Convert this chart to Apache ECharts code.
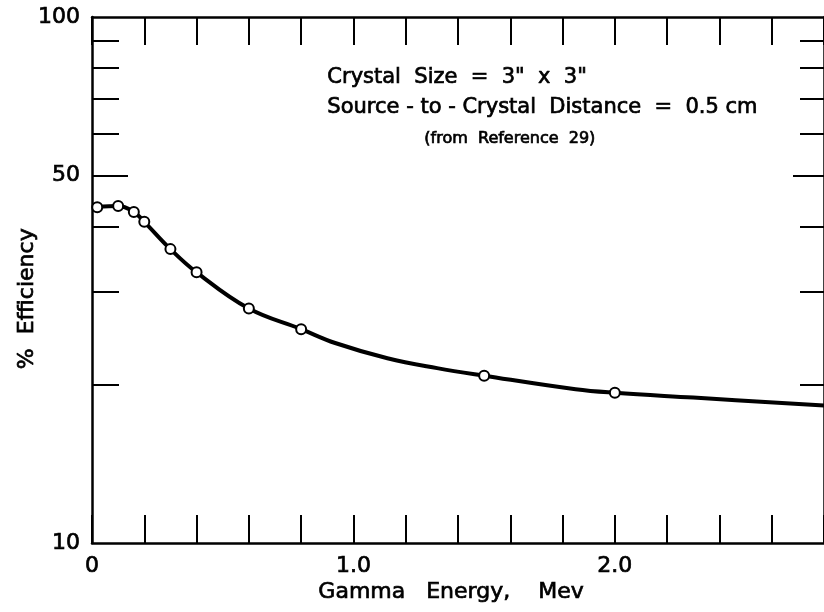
<!DOCTYPE html>
<html>
<head>
<meta charset="utf-8">
<script src="https://cdn.jsdelivr.net/npm/echarts@6/dist/echarts.min.js"></script>
<style>
  html, body { margin: 0; padding: 0; background: #fff; }
  #chart { width: 824px; height: 612px; }
</style>
</head>
<body>
<div id="chart"></div>
<script>
// Measured detector efficiency (circles) and the fitted curve through them
const markerEnergy = [0.02, 0.1, 0.16, 0.2, 0.3, 0.4, 0.6, 0.8, 1.5, 2.0];
const markerEfficiency = [43.5, 43.7, 42.6, 40.8, 36.2, 32.7, 27.9, 25.5, 20.8, 19.3];

const curveEnergy = [0.02, 0.1, 0.16, 0.2, 0.3, 0.4, 0.6, 0.8, 0.93, 1.13, 1.32, 1.5, 1.85, 2.0, 2.3, 2.8];
const curveEfficiency = [43.5, 43.7, 42.6, 40.8, 36.2, 32.7, 27.9, 25.5, 24.0, 22.45, 21.5, 20.8, 19.6, 19.3, 18.9, 18.25];

// Axis ticks and labels
const yTickValues = [20, 30, 40, 60, 70, 80, 90];
const yLongTickValues = [50];
const yLabelValues = [10, 50, 100];
const xLabelValues = [0, 1, 2];

const ink = '#000';
const fontFamily = '"DejaVu Sans", "Liberation Sans", sans-serif';
const inkStroke = 0.7;

const chart = echarts.init(document.getElementById('chart'), null, { renderer: 'canvas' });

const tickLabelStyle = {
  color: ink,
  fontFamily: fontFamily,
  fontSize: 22,
  textBorderColor: ink,
  textBorderWidth: inkStroke
};

function logAxis(position, tickValues, tickLength, showLine, showLabels) {
  return {
    type: 'log',
    logBase: 10,
    min: 10,
    max: 100,
    position: position,
    axisLine: { show: showLine, lineStyle: { color: ink, width: 2.5 } },
    axisTick: {
      show: true,
      inside: true,
      length: tickLength,
      customValues: tickValues,
      lineStyle: { color: ink, width: 2 }
    },
    axisLabel: showLabels ? Object.assign({
      show: true,
      customValues: yLabelValues,
      margin: 12,
      formatter: v => String(Math.round(v))
    }, tickLabelStyle) : { show: false },
    splitLine: { show: false },
    minorTick: { show: false },
    minorSplitLine: { show: false }
  };
}

function energyAxis(position, showLabels) {
  return {
    type: 'value',
    min: 0,
    max: 2.8,
    interval: 0.2,
    position: position,
    axisLine: { show: true, onZero: false, lineStyle: { color: ink, width: 2.5 } },
    axisTick: { show: true, inside: true, length: 28, lineStyle: { color: ink, width: 2 } },
    axisLabel: showLabels ? Object.assign({
      show: true,
      customValues: xLabelValues,
      margin: 12,
      formatter: v => (v === 0 ? '0' : v.toFixed(1))
    }, tickLabelStyle) : { show: false },
    splitLine: { show: false }
  };
}

function textStyle(text, size) {
  return { text: text, fill: ink, stroke: ink, lineWidth: inkStroke, font: size + 'px ' + fontFamily };
}

const option = {
  animation: false,
  backgroundColor: '#fff',
  grid: { left: 92, top: 17, width: 736, height: 526, containLabel: false },
  xAxis: [energyAxis('bottom', true), energyAxis('top', false)],
  yAxis: [
    logAxis('left', yTickValues, 27, true, true),
    logAxis('left', yLongTickValues, 36, false, false),
    logAxis('right', yTickValues, 24, true, false),
    logAxis('right', yLongTickValues, 31, false, false)
  ],
  graphic: [
    { type: 'text', left: 327, top: 67, style: textStyle('Crystal  Size  =  3"  x  3"', 21) },
    { type: 'text', left: 327, top: 97, style: textStyle('Source - to - Crystal  Distance  =  0.5 cm', 21) },
    { type: 'text', left: 424, top: 130, style: textStyle('(from  Reference  29)', 16) },
    { type: 'text', left: 16, top: 228, rotation: Math.PI / 2, style: textStyle('%  Efficiency', 22) },
    { type: 'text', left: 318, top: 581, style: textStyle('Gamma   Energy,    Mev', 22) }
  ],
  series: [
    {
      type: 'line',
      name: 'curve',
      xAxisIndex: 0,
      yAxisIndex: 0,
      data: curveEnergy.map((e, i) => [e, curveEfficiency[i]]),
      smooth: 0.4,
      showSymbol: false,
      symbol: 'none',
      lineStyle: { color: ink, width: 4 },
      z: 2
    },
    {
      type: 'scatter',
      name: 'measured',
      xAxisIndex: 0,
      yAxisIndex: 0,
      data: markerEnergy.map((e, i) => [e, markerEfficiency[i]]),
      symbol: 'circle',
      symbolSize: 10,
      itemStyle: { color: '#fff', borderColor: ink, borderWidth: 2, opacity: 1 },
      z: 3
    }
  ]
};

chart.setOption(option);
</script>
</body>
</html>
